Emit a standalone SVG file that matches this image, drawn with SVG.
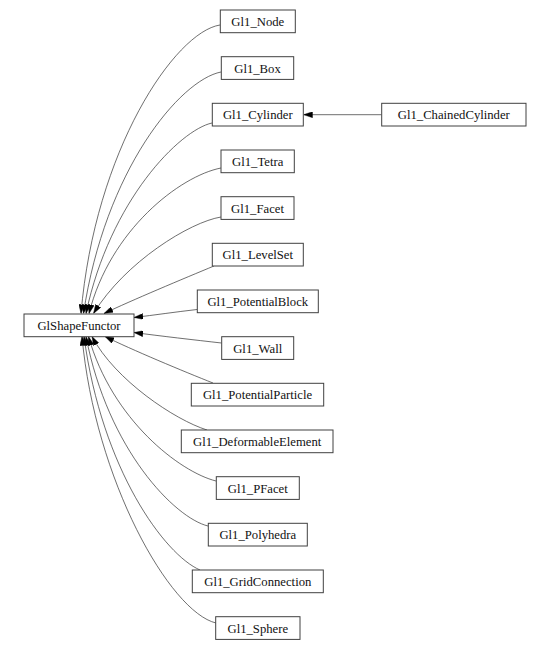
<svg xmlns="http://www.w3.org/2000/svg" width="541" height="650" viewBox="0 0 541 650">
<style>
.box{fill:#fff;stroke:#404040;stroke-width:1}
.lbl{font-family:"Liberation Serif","Times New Roman",serif;font-size:12.7px;fill:#111;text-anchor:middle}
.edge{fill:none;stroke:#303030;stroke-width:0.7;marker-end:url(#ah)}
</style>
<defs>
<marker id="ah" markerUnits="userSpaceOnUse" markerWidth="9" markerHeight="6" viewBox="0 0 9 6" refX="9" refY="3" orient="auto">
<path d="M0,0 L9,3 L0,6 z" fill="#000" stroke="#000" stroke-width="0.4"/>
</marker>
</defs>
<rect width="541" height="650" fill="#fff"/>
<g id="connectors">
<path class="edge" d="M220,25 C175,32 95,150 81,313.5"/>
<path class="edge" d="M221,72 C180,80 105,170 83.5,313.5"/>
<path class="edge" d="M212,123 C180,130 110,200 86,313.5"/>
<path class="edge" d="M221,168 C180,176 110,230 89,313.5"/>
<path class="edge" d="M221,217 C190,222 125,262 93.5,313.5"/>
<path class="edge" d="M214,266 C185,278 130,301 104,313.5"/>
<path class="edge" d="M197,309.5 C175,312 155,315 134,317.5"/>
<path class="edge" d="M221.5,343 C195,340 160,336 134,332.5"/>
<path class="edge" d="M213,383 C185,372 130,349 105,336.5"/>
<path class="edge" d="M207,430 C175,420 115,380 92,336.5"/>
<path class="edge" d="M216,481 C180,472 112,420 88.5,336.5"/>
<path class="edge" d="M208,526 C175,518 108,450 86,336.5"/>
<path class="edge" d="M200,570 C165,555 102,470 84,336.5"/>
<path class="edge" d="M216,623 C170,612 95,480 82,336.5"/>
<path class="edge" d="M381.5,114.7 L303.5,114.7"/>
</g>
<g id="GlShapeFunctor"><rect class="box" x="24" y="314" width="110" height="22.7"/><text class="lbl" x="79" y="330">GlShapeFunctor</text></g>
<g id="Gl1_Node"><rect class="box" x="220.3" y="10" width="75" height="22.7"/><text class="lbl" x="257.8" y="26">Gl1_Node</text></g>
<g id="Gl1_Box"><rect class="box" x="221.3" y="56.7" width="72.4" height="22.7"/><text class="lbl" x="257.5" y="72.7">Gl1_Box</text></g>
<g id="Gl1_Cylinder"><rect class="box" x="212.3" y="103.3" width="91" height="22.7"/><text class="lbl" x="257.8" y="119.3">Gl1_Cylinder</text></g>
<g id="Gl1_ChainedCylinder"><rect class="box" x="381.7" y="103.3" width="144.3" height="22.7"/><text class="lbl" x="453.8" y="119.3">Gl1_ChainedCylinder</text></g>
<g id="Gl1_Tetra"><rect class="box" x="221" y="150" width="73.3" height="22.7"/><text class="lbl" x="257.7" y="166">Gl1_Tetra</text></g>
<g id="Gl1_Facet"><rect class="box" x="221" y="196.7" width="73" height="22.7"/><text class="lbl" x="257.5" y="212.7">Gl1_Facet</text></g>
<g id="Gl1_LevelSet"><rect class="box" x="212.3" y="243.3" width="91" height="22.7"/><text class="lbl" x="257.8" y="259.3">Gl1_LevelSet</text></g>
<g id="Gl1_PotentialBlock"><rect class="box" x="197.3" y="290" width="121" height="22.7"/><text class="lbl" x="257.8" y="306">Gl1_PotentialBlock</text></g>
<g id="Gl1_Wall"><rect class="box" x="221.7" y="336.7" width="72" height="22.7"/><text class="lbl" x="257.7" y="352.7">Gl1_Wall</text></g>
<g id="Gl1_PotentialParticle"><rect class="box" x="191.3" y="383.3" width="132.4" height="22.7"/><text class="lbl" x="257.5" y="399.3">Gl1_PotentialParticle</text></g>
<g id="Gl1_DeformableElement"><rect class="box" x="181.3" y="430" width="151.7" height="22.7"/><text class="lbl" x="257.2" y="446">Gl1_DeformableElement</text></g>
<g id="Gl1_PFacet"><rect class="box" x="216.3" y="476.7" width="83" height="22.7"/><text class="lbl" x="257.8" y="492.7">Gl1_PFacet</text></g>
<g id="Gl1_Polyhedra"><rect class="box" x="208.3" y="523.3" width="99" height="22.7"/><text class="lbl" x="257.8" y="539.3">Gl1_Polyhedra</text></g>
<g id="Gl1_GridConnection"><rect class="box" x="192.3" y="570" width="131" height="22.7"/><text class="lbl" x="257.8" y="586">Gl1_GridConnection</text></g>
<g id="Gl1_Sphere"><rect class="box" x="215.7" y="616.7" width="84.3" height="22.7"/><text class="lbl" x="257.8" y="632.7">Gl1_Sphere</text></g>
</svg>
